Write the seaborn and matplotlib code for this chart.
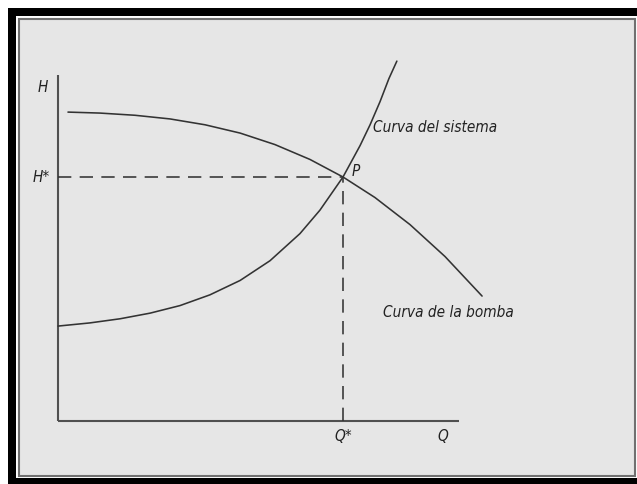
import numpy as np
import pandas as pd
import matplotlib
matplotlib.use("Agg")
import matplotlib.pyplot as plt
from matplotlib.patches import Rectangle
import seaborn as sns

# ---- data (normalised: Q* = 1, H* = 1) ----
pump_q = [0.035, 0.147, 0.270, 0.393, 0.516, 0.639, 0.761, 0.884, 1.0,
          1.112, 1.235, 1.358, 1.488]
pump_h = [1.266, 1.262, 1.253, 1.238, 1.214, 1.180, 1.133, 1.072, 1.0,
          0.916, 0.805, 0.674, 0.512]
sys_q = [0.0, 0.112, 0.218, 0.323, 0.428, 0.533, 0.639, 0.744, 0.849, 0.919,
         1.0, 1.060, 1.095, 1.130, 1.161, 1.189]
sys_h = [0.389, 0.402, 0.419, 0.442, 0.473, 0.517, 0.576, 0.657, 0.768, 0.864,
         1.0, 1.129, 1.214, 1.309, 1.403, 1.475]
q_star = 1.0
h_star = 1.0
q_axis_max = 1.407
h_axis_max = 1.418

sns.set_theme(style="white")
plt.rcParams['font.family'] = ['DejaVu Sans']

W, H = 637, 485
fig = plt.figure(figsize=(W / 100, H / 100), dpi=100)
fig.patch.set_facecolor("white")

def frect(x0, y0, x1, y1, **kw):
    # pixel rect (top-left origin) in figure coordinates
    return Rectangle((x0 / W, 1 - y1 / H), (x1 - x0) / W, (y1 - y0) / H,
                     transform=fig.transFigure, **kw)

fig.patches.append(frect(8, 9, 660, 500, facecolor="black", edgecolor="none", zorder=-30))
fig.patches.append(frect(16, 17, 637, 478.5, facecolor="white", edgecolor="none", zorder=-20))
fig.patches.append(frect(18.5, 19.5, 635, 477, facecolor="#e6e6e6",
                         edgecolor="#707070", linewidth=1.5, zorder=-10))

ax = fig.add_axes([0, 0, 1, 1])
ax.patch.set_visible(False)
ax.set_xlim(-58 / 285, (637 - 58) / 285)
ax.set_ylim((422 - 485) / 244, 422 / 244)

lc = "#333333"
lw = 1.15

# axes lines
ax.plot([0, 0], [0, h_axis_max], color="#505050", lw=1.5, solid_capstyle="butt")
ax.plot([0, q_axis_max], [0, 0], color="#505050", lw=1.5, solid_capstyle="butt")

pump = pd.DataFrame({"Q": pump_q, "H": pump_h})
system = pd.DataFrame({"Q": sys_q, "H": sys_h})
sns.lineplot(data=pump, x="Q", y="H", sort=False, estimator=None, ax=ax,
             color=lc, lw=lw)
sns.lineplot(data=system, x="Q", y="H", sort=False, estimator=None, ax=ax,
             color=lc, lw=lw)
ax.axis("off")

dash = (0, (9.6 / lw, 6.0 / lw))
ax.plot([0, q_star], [h_star, h_star], color=lc, lw=lw, linestyle=dash)
ax.plot([q_star, q_star], [0, h_star], color=lc, lw=lw, linestyle=dash)

tk = dict(color="#222222", style="italic", fontstretch="condensed", fontsize=11)
ax.text(-0.053, 1.37, "H", ha="center", va="center", **tk)
ax.text(-0.058, h_star, "H*", ha="center", va="center", **tk)
ax.text(1.046, 1.025, "P", ha="center", va="center", **tk)
ax.text(q_star, -0.06, "Q*", ha="center", va="center", **tk)
ax.text(1.35, -0.06, "Q", ha="center", va="center", **tk)
ax.text(1.105, 1.205, "Curva del sistema", ha="left", va="center", **tk)
ax.text(1.14, 0.447, "Curva de la bomba", ha="left", va="center", **tk)

fig.savefig("out.png", dpi=100, facecolor=fig.get_facecolor())
